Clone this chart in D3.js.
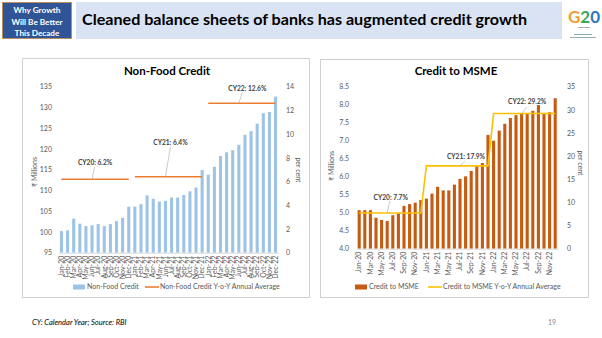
<!DOCTYPE html>
<html><head><meta charset="utf-8">
<script src="https://cdn.jsdelivr.net/npm/d3@7"></script>
<style>
html,body{margin:0;padding:0;background:#fff;}
svg{display:block;font-family:Lato,"Open Sans",sans-serif;}
</style></head>
<body><svg id="c" width="602" height="338"></svg>
<script>
// ---------- data ----------
const months = ["Jan-20","Feb-20","Mar-20","Apr-20","May-20","Jun-20","Jul-20","Aug-20","Sep-20","Oct-20","Nov-20","Dec-20",
"Jan-21","Feb-21","Mar-21","Apr-21","May-21","Jun-21","Jul-21","Aug-21","Sep-21","Oct-21","Nov-21","Dec-21",
"Jan-22","Feb-22","Mar-22","Apr-22","May-22","Jun-22","Jul-22","Aug-22","Sep-22","Oct-22","Nov-22","Dec-22"];
const years = ["CY20","CY21","CY22"];
const nonFoodCredit = [100.2,100.4,103.2,102.0,101.4,101.6,101.9,101.4,101.9,102.6,103.4,106.1,
106.1,106.7,108.8,108.0,107.3,107.5,108.3,108.3,108.9,109.8,110.7,114.9,
113.8,115.7,118.3,119.2,119.7,121.0,123.4,124.3,126.1,128.6,128.9,132.6];
const nonFoodYoY = [6.2,6.4,12.6];
const msmeCredit = [5.07,5.07,5.07,4.86,4.80,4.77,4.93,4.98,5.19,5.24,5.28,5.35,
5.39,5.53,5.72,5.62,5.62,5.78,5.94,6.01,6.16,6.29,6.38,7.16,
7.00,7.28,7.47,7.63,7.71,7.75,7.76,7.83,7.99,7.75,7.79,8.18];
const msmeYoY = [7.7,17.9,29.2];
const nfLeftTicks = [95,100,105,110,115,120,125,130,135];
const nfRightTicks = [0,2,4,6,8,10,12,14];
const msLeftTicks = [4.0,4.5,5.0,5.5,6.0,6.5,7.0,7.5,8.0,8.5];
const msRightTicks = [0,5,10,15,20,25,30,35];
const msmeXLabels = months.filter((m,i)=>i%2===0);

const svg = d3.select("#c");
const GRAY = "#595959";

// ---------- header ----------
svg.append("rect").attr("x",2.5).attr("y",2.5).attr("width",69).attr("height",36)
  .attr("fill","#2F5597").attr("stroke","#B98E5A").attr("stroke-width",1);
["Why Growth","Will Be Better","This Decade"].forEach((t,i)=>{
  svg.append("text").attr("x",37).attr("y",13+i*11.5).attr("text-anchor","middle")
    .attr("fill","#fff").attr("font-weight","bold").attr("font-size",8.2).text(t);
});
svg.append("rect").attr("x",76).attr("y",2).attr("width",486).attr("height",37).attr("fill","#DAE3F3");
svg.append("text").attr("x",82).attr("y",25).attr("font-weight","bold").attr("font-size",16)
  .attr("fill","#000").attr("textLength",445).attr("lengthAdjust","spacingAndGlyphs")
  .text("Cleaned balance sheets of banks has augmented credit growth");
// G20 logo approximation
const lg = svg.append("g");
lg.append("text").attr("x",568).attr("y",23).attr("font-size",17).attr("font-weight","bold")
  .call(t=>{t.append("tspan").attr("fill","#F39C34").text("G");t.append("tspan").attr("fill","#3AA655").text("2");t.append("tspan").attr("fill","#2E79C0").text("0");});
lg.append("rect").attr("x",578).attr("y",27).attr("width",12).attr("height",1).attr("fill","#aaa");
lg.append("rect").attr("x",574).attr("y",34).attr("width",18).attr("height",1).attr("fill","#8aa");
lg.append("rect").attr("x",570).attr("y",37).attr("width",26).attr("height",1).attr("fill","#9ab");

// ---------- footer ----------
svg.append("text").attr("x",32).attr("y",325).attr("font-size",7.5).attr("font-style","italic")
  .attr("fill","#000").text("CY: Calendar Year; Source: RBI");
svg.append("text").attr("x",548).attr("y",325).attr("font-size",7).attr("fill","#888").text("19");

// ---------- generic chart builder ----------
function buildChart(o){
  const g = svg.append("g");
  g.append("rect").attr("x",o.box[0]).attr("y",o.box[1]).attr("width",o.box[2]).attr("height",o.box[3])
    .attr("fill","#fff").attr("stroke","#D0D0D0").attr("stroke-width",1);
  g.append("text").attr("x",o.titleX).attr("y",o.titleY).attr("text-anchor","middle")
    .attr("font-weight","bold").attr("font-size",11.5).attr("fill","#000").text(o.title);

  const x = d3.scaleBand().domain(months).range(o.xr).paddingInner(o.pad).paddingOuter(o.pad/2);
  const yL = d3.scaleLinear().domain(o.yLd).range([o.yb,o.yt]);
  const yR = d3.scaleLinear().domain(o.yRd).range([o.yb,o.yt]);

  // bars
  g.append("g").selectAll("rect").data(o.values).join("rect")
    .attr("x",(d,i)=>x(months[i])).attr("width",x.bandwidth())
    .attr("y",d=>yL(d)).attr("height",d=>o.yb-yL(d))
    .attr("fill",o.barColor);

  // axes
  const ax = g.append("g").attr("transform",`translate(${o.yLx},0)`)
    .call(d3.axisLeft(yL).tickValues(o.yLt).tickSize(0).tickPadding(0).tickFormat(o.yLf));
  const ar = g.append("g").attr("transform",`translate(${o.yRx},0)`)
    .call(d3.axisRight(yR).tickValues(o.yRt).tickSize(0).tickPadding(0));
  [ax,ar].forEach(a=>{a.select(".domain").remove();a.selectAll("text").attr("font-size",7).attr("fill",GRAY).attr("font-family","Lato,sans-serif");});

  const xb = g.append("g").attr("transform",`translate(0,${o.yb})`)
    .call(d3.axisBottom(x).tickValues(o.xLabels).tickSize(0).tickPadding(0));
  xb.select(".domain").attr("stroke","#D9D9D9");
  xb.selectAll("text").attr("font-size",7).attr("fill",GRAY).attr("font-family","Lato,sans-serif")
    .attr("text-anchor","end").attr("transform","rotate(-90)").attr("dx",-3).attr("dy","0.32em").attr("y",0).attr("x",0)
    .attr("transform","rotate(-90)");

  // axis titles
  g.append("text").attr("transform",`translate(${o.lblL[0]},${o.lblL[1]}) rotate(-90)`).attr("text-anchor","middle")
    .attr("font-size",7).attr("fill",GRAY).text("₹ Millions");
  g.append("text").attr("transform",`translate(${o.lblR[0]},${o.lblR[1]}) rotate(90)`).attr("text-anchor","middle")
    .attr("font-size",7).attr("fill",GRAY).text("per cent");

  // average line
  const cx = i=>x(months[i])+x.bandwidth()/2;
  if(o.connected){
    const pts = months.map((m,i)=>[cx(i), yR(o.yoy[Math.floor(i/12)])]);
    g.append("path").attr("d",d3.line()(pts)).attr("fill","none").attr("stroke",o.lineColor).attr("stroke-width",1.6);
  } else {
    years.forEach((yname,k)=>{
      const pts = d3.range(12).map(j=>[cx(k*12+j), yR(o.yoy[k])]);
      g.append("path").attr("d",d3.line()(pts)).attr("fill","none").attr("stroke",o.lineColor).attr("stroke-width",1.6);
    });
  }
  // annotations
  years.forEach((yname,k)=>{
    const a = o.ann[k];
    const bx = cx(a[0]), by = yR(o.yoy[k]);
    g.append("line").attr("x1",bx).attr("y1",by).attr("x2",bx+a[1]).attr("y2",by+a[2])
      .attr("stroke","#A6A6A6").attr("stroke-width",0.6);
    g.append("text").attr("x",bx+a[3]).attr("y",by+a[4]).attr("text-anchor","middle")
      .attr("font-size",6.6).attr("font-weight","bold").attr("fill","#404040")
      .text(`${yname}: ${d3.format(".1f")(o.yoy[k])}%`);
  });

  // legend
  const lgd = g.append("g");
  lgd.append("rect").attr("x",o.leg[0]).attr("y",o.legY-2.5).attr("width",12).attr("height",5).attr("fill",o.barColor);
  lgd.append("text").attr("x",o.leg[0]+14).attr("y",o.legY).attr("dy","0.33em").attr("font-size",7).attr("fill",GRAY).text(o.legText[0]);
  lgd.append("line").attr("x1",o.leg[1]).attr("x2",o.leg[1]+14).attr("y1",o.legY).attr("y2",o.legY)
    .attr("stroke",o.lineColor).attr("stroke-width",1.6);
  lgd.append("text").attr("x",o.leg[1]+15).attr("y",o.legY).attr("dy","0.33em").attr("font-size",7).attr("fill",GRAY).text(o.legText[1]);
}

buildChart({
  box:[22.5,58.5,287,239], title:"Non-Food Credit", titleX:167, titleY:75,
  values:nonFoodCredit, yoy:nonFoodYoY, connected:false,
  xr:[58.4,278.6], pad:0.5, yb:252.7, yt:86.7,
  yLd:[95,135], yRd:[0,14], yLt:nfLeftTicks, yRt:nfRightTicks, yLf:d3.format("d"),
  yLx:52, yRx:286, xLabels:months,
  barColor:"#9DC3E6", lineColor:"#ED7D31",
  lblL:[37,172], lblR:[296,170],
  ann:[[5,2.5,-12,3,-14],[17,5,-30,5,-32],[29,3.5,-11,8.5,-12.5]],
  leg:[73,145], legY:287, legText:["Non-Food Credit","Non-Food Credit Y-o-Y Annual Average"]
});

buildChart({
  box:[320.5,59.5,268,238], title:"Credit to MSME", titleX:456, titleY:75,
  values:msmeCredit, yoy:msmeYoY, connected:true,
  xr:[356.4,558], pad:0.45, yb:248.7, yt:86.7,
  yLd:[4,8.5], yRd:[0,35], yLt:msLeftTicks, yRt:msRightTicks, yLf:d3.format(".1f"),
  yLx:349, yRx:567, xLabels:msmeXLabels,
  barColor:"#C55A11", lineColor:"#FFC000",
  lblL:[334,166], lblR:[578,163],
  ann:[[5,2.5,-12,3.5,-13],[18,5.5,-5,6,-7],[29,5.5,-6.5,5.5,-9.5]],
  leg:[355,428], legY:287, legText:["Credit to MSME","Credit to MSME Y-o-Y Annual Average"]
});
</script></body></html>
